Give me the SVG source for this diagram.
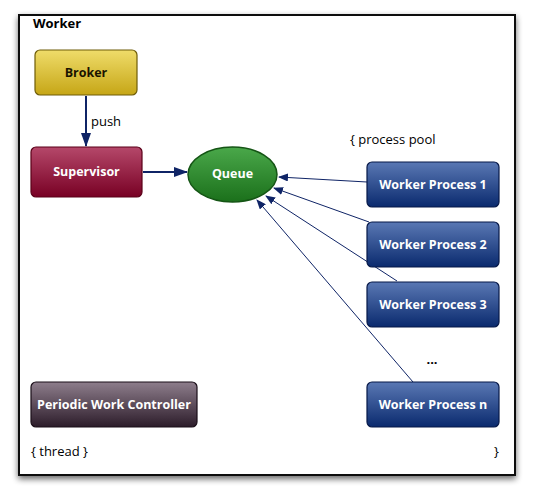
<svg xmlns="http://www.w3.org/2000/svg" width="535" height="500" viewBox="0 0 535 500">
<defs>
<linearGradient id="gGold" x1="0" y1="0" x2="0" y2="1"><stop offset="0" stop-color="#efdc6a"/><stop offset="1" stop-color="#c6a616"/></linearGradient>
<linearGradient id="gRed" x1="0" y1="0" x2="0" y2="1"><stop offset="0" stop-color="#b5486a"/><stop offset="1" stop-color="#780024"/></linearGradient>
<linearGradient id="gGreen" x1="0" y1="0" x2="0" y2="1"><stop offset="0" stop-color="#4aa84a"/><stop offset="1" stop-color="#1b701b"/></linearGradient>
<linearGradient id="gBlue" x1="0" y1="0" x2="0" y2="1"><stop offset="0" stop-color="#5a78b4"/><stop offset="1" stop-color="#0a2a6e"/></linearGradient>
<linearGradient id="gGrey" x1="0" y1="0" x2="0" y2="1"><stop offset="0" stop-color="#8e7e8c"/><stop offset="1" stop-color="#2c1c2a"/></linearGradient>
<filter id="shadow" x="-10%" y="-10%" width="120%" height="120%"><feGaussianBlur in="SourceAlpha" stdDeviation="3"/><feOffset dx="0" dy="3"/><feComponentTransfer><feFuncA type="linear" slope="0.6"/></feComponentTransfer><feMerge><feMergeNode/><feMergeNode in="SourceGraphic"/></feMerge></filter>
<marker id="ah" markerWidth="10" markerHeight="8" refX="9" refY="4" orient="auto" markerUnits="userSpaceOnUse"><path d="M0,0 L10,4 L0,8 Z" fill="#0f2466"/></marker>
<marker id="ahB" markerWidth="14" markerHeight="10" refX="13" refY="5" orient="auto" markerUnits="userSpaceOnUse"><path d="M0,0 L14,5 L0,10 Z" fill="#0f2466"/></marker>
</defs>
<style>
.lbl{font-family:"Open Sans","DejaVu Sans",sans-serif;font-weight:700;font-size:12.5px;fill:#fff;text-anchor:middle}
.dk{font-family:"Open Sans","DejaVu Sans",sans-serif;font-size:13px;fill:#000}
.box{stroke-width:1.2}
.thin{stroke:#0f2466;stroke-width:1;fill:none;marker-end:url(#ah)}
.thick{stroke:#0f2466;stroke-width:2;fill:none;marker-end:url(#ahB)}
</style>
<rect x="0" y="0" width="535" height="500" fill="#fff"/>
<rect id="frame" x="19" y="15" width="496" height="460" fill="#fff" stroke="#111" stroke-width="2" filter="url(#shadow)"/>
<text class="dk" x="33" y="28" font-weight="700" font-size="12.5">Worker</text>
<g id="connectors">
<line class="thick" x1="86" y1="96" x2="86" y2="146"/>
<line class="thick" x1="143" y1="172" x2="187" y2="172"/>
<line class="thin" x1="367" y1="182" x2="279" y2="177"/>
<line class="thin" x1="369" y1="222" x2="274" y2="188"/>
<line class="thin" x1="397" y1="281" x2="266" y2="196"/>
<line class="thin" x1="413" y1="382" x2="257" y2="200"/>
<text class="dk" x="91" y="126" font-size="11.5">push</text>
</g>
<g id="broker"><rect class="box" x="35" y="50" width="102" height="45" rx="5" fill="url(#gGold)" stroke="#6e5c08"/><text class="lbl" x="86" y="77" style="fill:#1a1400">Broker</text></g>
<g id="supervisor"><rect class="box" x="31" y="147" width="111" height="50" rx="5" fill="url(#gRed)" stroke="#5a0018"/><text class="lbl" x="86.5" y="176">Supervisor</text></g>
<g id="queue"><ellipse cx="232.5" cy="174.5" rx="44.5" ry="27.5" fill="url(#gGreen)" stroke="#155515" stroke-width="1.5"/><text class="lbl" x="232.5" y="178">Queue</text></g>
<text class="dk" x="350" y="144">{ process pool</text>
<g id="wp1"><rect class="box" x="367" y="162" width="132" height="45" rx="5" fill="url(#gBlue)" stroke="#061848"/><text class="lbl" x="433" y="189">Worker Process 1</text></g>
<g id="wp2"><rect class="box" x="367" y="222" width="132" height="45" rx="5" fill="url(#gBlue)" stroke="#061848"/><text class="lbl" x="433" y="249">Worker Process 2</text></g>
<g id="wp3"><rect class="box" x="367" y="282" width="132" height="45" rx="5" fill="url(#gBlue)" stroke="#061848"/><text class="lbl" x="433" y="309">Worker Process 3</text></g>
<text class="dk" x="432" y="364" font-weight="700" font-size="18" text-anchor="middle">...</text>
<g id="wpn"><rect class="box" x="367" y="382" width="132" height="45" rx="5" fill="url(#gBlue)" stroke="#061848"/><text class="lbl" x="433" y="409">Worker Process n</text></g>
<g id="pwc"><rect class="box" x="31" y="382" width="166" height="45" rx="5" fill="url(#gGrey)" stroke="#1a0e18"/><text class="lbl" x="114" y="409">Periodic Work Controller</text></g>
<text class="dk" x="31" y="456">{ thread }</text>
<text class="dk" x="494" y="456">}</text>
</svg>
